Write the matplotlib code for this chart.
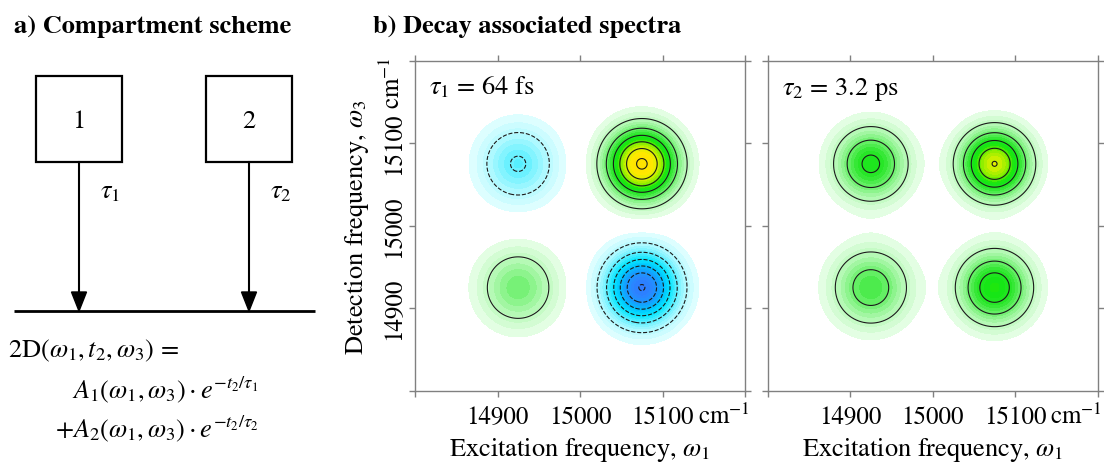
import numpy as np
import matplotlib
matplotlib.use("Agg")
import matplotlib.pyplot as plt
from matplotlib.colors import LinearSegmentedColormap
from matplotlib.patches import Rectangle, Polygon
from matplotlib.transforms import IdentityTransform

plt.rcParams.update({
    "font.family": "STIXGeneral",
    "mathtext.fontset": "stix",
    "font.size": 19,
    "contour.negative_linestyle": "dashed",
})

W, H = 1104, 464

# axes range and ticks (cm^-1)
freq_lim = [14800, 15200]
tick_vals = [14800, 14900, 15000, 15100, 15200]
tick_labels = ["", "14900", "15000", "15100", ""]

# decay associated spectra, one Gaussian peak per cross/diagonal position
peak_w1 = [14925, 15075, 14925, 15075]      # excitation
peak_w3 = [15075, 15075, 14925, 14925]      # detection
das1_amp = [-2.09, 6.15, 1.99, -6.05]       # in units of contour step
das1_sig = [31.2, 28.8, 31.8, 28.8]
das2_amp = [3.2, 5.03, 2.53, 3.6]
das2_sig = [29.6, 27.8, 31.6, 29.6]
lifetimes = [r"$\tau_1$ = 64 fs", r"$\tau_2$ = 3.2 ps"]

line_levels = [-7, -6, -5, -4, -3, -2, -1, 1, 2, 3, 4, 5, 6, 7]
fill_levels = np.linspace(0.34, 6.25, 25)

compartments = ["1", "2"]
decay_labels = [r"$\tau_1$", r"$\tau_2$"]

cmap_pos = LinearSegmentedColormap.from_list("pos", [
    (0.0, "#eaffea"), (0.16, "#b0f8b0"), (0.32, "#5eee5e"), (0.42, "#2ae62a"),
    (0.55, "#10e610"), (0.66, "#7cee00"), (0.8, "#dcf000"), (0.9, "#ffe800"),
    (1.0, "#ffe000")])
cmap_neg = LinearSegmentedColormap.from_list("neg", [
    (0.0, "#e4ffff"), (0.16, "#a8f8ff"), (0.32, "#50eeff"), (0.45, "#0ae8ff"),
    (0.6, "#00c8ff"), (0.75, "#14a0ff"), (0.9, "#2a86ff"), (1.0, "#3078ff")])

fig = plt.figure(figsize=(W / 100, H / 100), dpi=100)

# ── a) compartment scheme (drawn in pixel coordinates) ─────────────────────
ax0 = fig.add_axes([0, 0, 1, 1])
ax0.set_xlim(0, W)
ax0.set_ylim(H, 0)
ax0.axis("off")
ax0.text(14, 33, "a) Compartment scheme", fontweight="bold", va="baseline")
ax0.text(373, 33, "b) Decay associated spectra", fontweight="bold", va="baseline")

box_x = [79, 249]
for cx, name, tau in zip(box_x, compartments, decay_labels):
    ax0.add_patch(Rectangle((cx - 43, 77), 86, 86, fill=False, lw=1.6, ec="k"))
    ax0.text(cx, 128, name, ha="center", va="baseline")
    ax0.plot([cx, cx], [163, 296], color="k", lw=1.5)
    ax0.add_patch(Polygon([[cx - 7.5, 293], [cx + 7.5, 293], [cx, 312]],
                          closed=True, color="k"))
    ax0.text(cx + 21, 198, tau, ha="left", va="baseline")
ax0.plot([14, 315], [312, 312], color="k", lw=2, solid_capstyle="butt")

ax0.text(8, 357, r"$2\mathrm{D}(\omega_1, t_2, \omega_3)$ =", va="baseline")
ax0.text(72, 398, r"$A_1(\omega_1, \omega_3) \cdot e^{-t_2/\tau_1}$", va="baseline")
ax0.text(55, 437, r"$+A_2(\omega_1, \omega_3) \cdot e^{-t_2/\tau_2}$", va="baseline")

# ── b) decay associated spectra ────────────────────────────────────────────
w = np.linspace(freq_lim[0], freq_lim[1], 401)
X, Y = np.meshgrid(w, w)

def das_map(amp, sig):
    Z = np.zeros_like(X)
    for x0, y0, a, s in zip(peak_w1, peak_w3, amp, sig):
        Z += a * np.exp(-((X - x0) ** 2 + (Y - y0) ** 2) / (2 * s ** 2))
    return Z

ax1 = fig.add_axes([415 / W, (H - 391.7) / H, 330 / W, 330 / H])
ax2 = fig.add_axes([767.7 / W, (H - 391.7) / H, 330 / W, 330 / H])

for ax, amp, sig, lab in zip([ax1, ax2], [das1_amp, das2_amp],
                             [das1_sig, das2_sig], lifetimes):
    Z = das_map(amp, sig)
    ax.contourf(X, Y, Z, levels=fill_levels, cmap=cmap_pos, extend="max")
    ax.contourf(X, Y, -Z, levels=fill_levels, cmap=cmap_neg, extend="max")
    ax.contour(X, Y, Z, levels=line_levels, colors="#1a1a1a", linewidths=0.8)
    ax.set_xlim(freq_lim)
    ax.set_ylim(freq_lim)
    ax.set_xticks(tick_vals)
    ax.set_xticklabels(tick_labels)
    ax.set_yticks(tick_vals)
    ax.tick_params(direction="out", length=4.5, width=1, color="#808080",
                   top=True, right=True, labelsize=18)
    ax.tick_params(axis="x", pad=6)
    ax.tick_params(axis="y", pad=2)
    for sp in ax.spines.values():
        sp.set_color("#808080")
        sp.set_linewidth(1)
    ax.set_xlabel(r"Excitation frequency, $\omega_1$", labelpad=4)
    ax.text(0.042, 0.9, lab, transform=ax.transAxes, va="baseline")

ax1.set_yticklabels(tick_labels, rotation=90, va="center")
ax1.set_ylabel(r"Detection frequency, $\omega_3$", labelpad=8)
ax2.tick_params(axis="y", labelleft=False)

# unit after the 15100 tick labels
fig.canvas.draw()
rend = fig.canvas.get_renderer()
for ax in (ax1, ax2):
    bb = ax.get_xticklabels()[3].get_window_extent(rend)
    fig.text(bb.x1 + 4, bb.y0, r"cm$^{-1}$", transform=IdentityTransform(),
             ha="left", va="bottom", fontsize=18)
bb = ax1.get_yticklabels()[3].get_window_extent(rend)
fig.text(bb.x1, bb.y1 + 4, r"cm$^{-1}$", transform=IdentityTransform(),
         rotation=90, ha="right", va="bottom", fontsize=18)

fig.savefig("out.png", dpi=100)
